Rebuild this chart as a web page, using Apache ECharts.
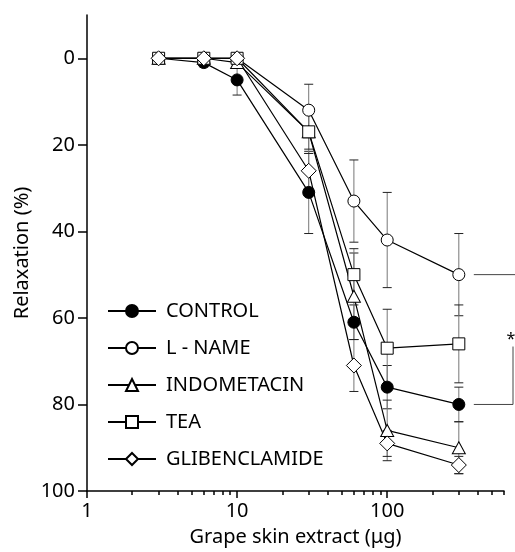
<!DOCTYPE html>
<html>
<head>
<meta charset="utf-8">
<script src="https://cdn.jsdelivr.net/npm/echarts@6/dist/echarts.min.js"></script>
<style>
  html, body { margin: 0; padding: 0; background: #fff; }
  #chart { width: 515px; height: 552px; }
</style>
</head>
<body>
<div id="chart"></div>
<script>
// doses (µg) and mean relaxation (%) with error
const doses = [3, 6, 10, 30, 60, 100, 300];
const control = [0, 1, 5, 31, 61, 76, 80];
const controlErr = [0, 1, 3.5, 9.5, 4, 5, 4];
const lname = [0, 0, 0, 12, 33, 42, 50];
const lnameErr = [0, 0, 0, 6, 9.5, 11, 9.5];
const indo = [0, 0, 1, 17, 55, 86, 90];
const indoErr = [0, 0, 1, 5, 10, 7, 6];
const tea = [0, 0, 0, 17, 50, 67, 66];
const teaErr = [0, 0, 0, 4, 6, 9, 9];
const glib = [0, 0, 0, 26, 71, 89, 94];
const glibErr = [0, 0, 0, 4, 6, 3, 2];

const yTicks = [0, 20, 40, 60, 80, 100];
const xMajorTicks = [1, 10, 100];
const xMinorTicks = [2, 3, 4, 5, 6, 7, 8, 9, 20, 30, 40, 50, 60, 70, 80, 90, 200, 300, 400, 500, 600];
// significance bracket: dose, L-NAME mean, CONTROL mean
const bracket = [[300, 50, 80]];

const font = 'Noto Sans';

function pairs(ys) {
  return doses.map((d, i) => [d, ys[i]]);
}
function errs(ys, es) {
  return doses.map((d, i) => [d, ys[i] - es[i], ys[i] + es[i]]);
}

function errorBar(params, api) {
  const x = api.value(0);
  const lo = api.value(1);
  const hi = api.value(2);
  if (hi - lo < 0.5) return;
  const p1 = api.coord([x, lo]);
  const p2 = api.coord([x, hi]);
  const w = 4.5;
  return {
    type: 'group',
    children: [
      { type: 'line', shape: { x1: p1[0], y1: p1[1], x2: p2[0], y2: p2[1] }, style: { stroke: '#777', lineWidth: 1 } },
      { type: 'line', shape: { x1: p1[0] - w, y1: p1[1], x2: p1[0] + w, y2: p1[1] }, style: { stroke: '#222', lineWidth: 1 } },
      { type: 'line', shape: { x1: p2[0] - w, y1: p2[1], x2: p2[0] + w, y2: p2[1] }, style: { stroke: '#222', lineWidth: 1 } }
    ]
  };
}

function lineSeries(name, ys, symbol, size, filled) {
  return {
    name: name,
    type: 'line',
    data: pairs(ys),
    symbol: symbol,
    symbolSize: size,
    showAllSymbol: true,
    z: 3,
    lineStyle: { color: '#000', width: 1.2 },
    itemStyle: { color: filled ? '#000' : '#fff', borderColor: '#000', borderWidth: 1 },
    emphasis: { disabled: true }
  };
}

function errSeries(name, ys, es) {
  return {
    name: name + ' err',
    type: 'custom',
    data: errs(ys, es),
    renderItem: errorBar,
    encode: { x: 0, y: [1, 2] },
    z: 2,
    silent: true
  };
}

const chart = echarts.init(document.getElementById('chart'));

chart.setOption({
  animation: false,
  backgroundColor: '#fff',
  textStyle: { fontFamily: font, color: '#000' },
  grid: { left: 87, right: 11, top: 15, bottom: 60 },
  legend: {
    orient: 'vertical',
    left: 102,
    top: 296,
    itemWidth: 48,
    itemHeight: 15,
    itemGap: 17,
    data: ['CONTROL', 'L - NAME', 'INDOMETACIN', 'TEA', 'GLIBENCLAMIDE'],
    textStyle: { fontFamily: font, fontSize: 20, color: '#000', padding: [0, 0, 0, 5] },
    selectedMode: false
  },
  xAxis: [{
    type: 'log',
    logBase: 10,
    min: 1,
    max: 600,
    name: 'Grape skin extract (\u03bcg)',
    nameLocation: 'middle',
    nameGap: 36,
    nameMoveOverlap: false,
    nameTextStyle: { fontFamily: font, fontSize: 20, color: '#000' },
    axisLine: { onZero: false, lineStyle: { color: '#000', width: 1.5 } },
    axisTick: { show: true, inside: false, length: 4, customValues: xMinorTicks, lineStyle: { color: '#000', width: 1.5 } },
    axisLabel: { show: false },
    splitLine: { show: false }
  }, {
    type: 'log',
    logBase: 10,
    min: 1,
    max: 600,
    position: 'bottom',
    axisLine: { show: false, onZero: false },
    axisTick: { show: true, inside: false, length: 7, customValues: xMajorTicks, lineStyle: { color: '#000', width: 1.5 } },
    axisLabel: { show: true, customValues: xMajorTicks, fontFamily: font, fontSize: 20, color: '#000', margin: 10 },
    splitLine: { show: false }
  }],
  yAxis: {
    type: 'value',
    inverse: true,
    min: -10,
    max: 100,
    name: 'Relaxation (%)',
    nameLocation: 'middle',
    nameGap: 55,
    nameMoveOverlap: false,
    nameTextStyle: { fontFamily: font, fontSize: 20, color: '#000' },
    axisLine: { show: true, onZero: false, lineStyle: { color: '#000', width: 1.5 } },
    axisTick: { show: true, length: 9, customValues: yTicks, lineStyle: { color: '#000', width: 1.5 } },
    axisLabel: { customValues: yTicks, fontFamily: font, fontSize: 20, color: '#000', margin: 12 },
    splitLine: { show: false }
  },
  series: [
    errSeries('CONTROL', control, controlErr),
    errSeries('L - NAME', lname, lnameErr),
    errSeries('INDOMETACIN', indo, indoErr),
    errSeries('TEA', tea, teaErr),
    errSeries('GLIBENCLAMIDE', glib, glibErr),
    lineSeries('CONTROL', control, 'circle', 12, true),
    lineSeries('L - NAME', lname, 'circle', 12, false),
    lineSeries('INDOMETACIN', indo, 'triangle', [13, 12], false),
    lineSeries('TEA', tea, 'rect', 12, false),
    lineSeries('GLIBENCLAMIDE', glib, 'diamond', [15, 15], false),
    {
      name: 'bracket',
      type: 'custom',
      data: bracket,
      silent: true,
      z: 1,
      renderItem: function (params, api) {
        const a = api.coord([api.value(0), api.value(1)]);
        const b = api.coord([api.value(0), api.value(2)]);
        const x0 = a[0] + 15;
        const x1 = params.coordSys.x + params.coordSys.width + 9;
        const starY = a[1] + (b[1] - a[1]) * 0.5;
        const st = { stroke: '#444', lineWidth: 1 };
        return {
          type: 'group',
          children: [
            { type: 'line', shape: { x1: x0, y1: a[1], x2: x1 + 4, y2: a[1] }, style: st },
            { type: 'line', shape: { x1: x0, y1: b[1], x2: x1, y2: b[1] }, style: st },
            { type: 'line', shape: { x1: x1, y1: starY + 7, x2: x1, y2: b[1] }, style: st },
            { type: 'text', x: x1 - 2, y: starY, style: { text: '*', font: '16px ' + font, fill: '#000', align: 'center', verticalAlign: 'middle' } }
          ]
        };
      }
    }
  ]
});
</script>
</body>
</html>
